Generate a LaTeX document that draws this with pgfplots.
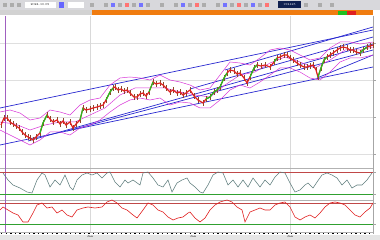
\documentclass[border=0pt]{standalone}
\usepackage{pgfplots}
\pgfplotsset{compat=1.18}
\definecolor{bband}{HTML}{D838D8}
\definecolor{chan}{HTML}{2828D0}
\definecolor{cred}{HTML}{E02020}
\definecolor{cgreen}{HTML}{20C020}
\definecolor{osc}{HTML}{5E7C7C}
\definecolor{lvlred}{HTML}{C04848}
\definecolor{lvlgreen}{HTML}{30A030}
\definecolor{orng}{HTML}{F07C10}
\definecolor{tool}{HTML}{D8D8DC}
\definecolor{navybox}{HTML}{102050}
\definecolor{vline}{HTML}{A060C0}
\definecolor{wick}{HTML}{8A4A2A}
\pgfplotstableread{
x y
1 125
4 118
7 118
10 122
13 124
16 126
19 128
22 132
25 135
28 137
30 138
33 140
36 137
40 133
43 123
47 115
50 119
53 122
57 120
60 124
63 121
66 125
70 122
73 128
76 124
80 120
83 108
86 110
90 109
93 108
97 107
100 106
103 105
106 100
110 92
113 88
115 87
118 90
121 89
124 91
127 90
130 93
134 97
137 97
140 94
143 93
146 96
149 92
153 82
156 84
160 83
163 85
166 88
170 92
173 90
177 93
180 92
183 95
186 93
190 90
194 96
198 100
203 103
206 99
210 97
214 92
217 90
220 87
224 78
227 73
230 70
234 71
237 74
240 73
244 78
247 83
250 77
254 68
257 65
261 66
265 65
270 67
274 62
277 58
280 57
284 55
287 55
290 58
293 60
297 63
300 65
304 67
307 67
310 66
313 65
316 70
318 77
321 68
324 60
327 57
330 55
333 53
337 50
340 48
343 47
347 48
350 50
353 50
356 52
360 53
363 50
367 47
370 46
373 45
}\price
\begin{document}
\begin{tikzpicture}
\begin{axis}[width=380pt,height=240pt,scale only axis,
  xmin=0,xmax=380,ymin=0,ymax=240,y dir=reverse,
  axis lines=none,clip=true]
% backgrounds
\fill[tool] (axis cs:0,0) rectangle (axis cs:380,10.5);
\fill[gray!35] (axis cs:0,10.5) rectangle (axis cs:92,15.5);
\fill[orng] (axis cs:92,10.5) rectangle (axis cs:373,15.5);
\fill[white] (axis cs:373,10.5) rectangle (axis cs:380,15.5);
\fill[cgreen] (axis cs:338,11) rectangle (axis cs:347,15);
\fill[cred] (axis cs:347,11) rectangle (axis cs:356,15);
\fill[gray!20] (axis cs:0,234.5) rectangle (axis cs:380,240);
\fill[white] (axis cs:25,2) rectangle (axis cs:56,8);
\fill[white] (axis cs:68,2) rectangle (axis cs:84,8);
\fill[blue!60] (axis cs:59,2) rectangle (axis cs:64,8);
\fill[navybox] (axis cs:278,1) rectangle (axis cs:301,8);
\pgfplotsinvokeforeach{3,10,17,90,104,118,132,146,160,174,188,202,216,230,244,258,304,318,330}{
  \fill[gray!65] (axis cs:#1,3) rectangle ++(4pt,-4pt);}
\pgfplotsinvokeforeach{111,139,181,223,251}{
  \fill[blue!55] (axis cs:#1,3) rectangle ++(4pt,-4pt);}
\pgfplotsinvokeforeach{125,195,237,265}{
  \fill[red!55] (axis cs:#1,3) rectangle ++(4pt,-4pt);}
% grid and frames
\draw[gray!25] (axis cs:0,43) -- (axis cs:373,43);
\draw[gray!25] (axis cs:0,80) -- (axis cs:373,80);
\draw[gray!25] (axis cs:0,117) -- (axis cs:373,117);
\draw[gray!25] (axis cs:0,154) -- (axis cs:373,154);
\pgfplotsinvokeforeach{43,80,117,154,172,194,203,224}{
  \draw[gray!70] (axis cs:373,#1) -- ++(3pt,0pt);}
\draw[gray!30] (axis cs:90,16) -- (axis cs:90,232);
\draw[gray!30] (axis cs:290,16) -- (axis cs:290,232);
\draw[gray!60] (axis cs:0,168) -- (axis cs:373,168);
\draw[gray!60] (axis cs:0,200.5) -- (axis cs:373,200.5);
\draw[gray!60] (axis cs:0,232) -- (axis cs:373,232);
\draw[gray!70] (axis cs:373,16) -- (axis cs:373,234);
\draw[vline,line width=0.8pt] (axis cs:5,16) -- (axis cs:5,232);
% channel lines
\addplot[chan,line width=0.7pt] coordinates {(0,108) (373,30)};
\addplot[chan,line width=0.7pt] coordinates {(0,145) (373,67)};
\addplot[chan,line width=0.7pt] coordinates {(28,141) (373,44)};
\addplot[chan,line width=0.7pt] coordinates {(67,131) (373,50)};
\addplot[chan,line width=0.7pt] coordinates {(190,89) (373,37)};
\addplot[chan,line width=0.7pt] coordinates {(225,70) (373,27)};
\addplot[chan,line width=0.7pt] coordinates {(317,78) (373,55)};
% bollinger bands
\addplot[bband,line width=0.5pt] coordinates {(0,112) (10,110) (20,113) (30,120) (40,118) (50,110) (60,112) (70,115) (80,105) (90,100) (100,98) (110,85) (120,78) (130,77) (140,78) (150,80) (160,75) (170,80) (180,82) (190,85) (200,90) (210,88) (220,75) (230,62) (240,63) (250,65) (260,58) (270,50) (280,48) (290,50) (300,55) (310,60) (320,58) (330,48) (340,42) (350,42) (360,44) (373,42)};
\addplot[bband,line width=0.5pt] coordinates {(0,122) (15,124) (30,130) (45,125) (60,122) (75,122) (90,115) (105,108) (120,95) (135,88) (150,88) (165,88) (180,92) (195,95) (210,97) (225,85) (240,75) (255,72) (270,63) (285,57) (300,62) (315,68) (330,60) (345,50) (360,50) (373,47)};
\addplot[bband,line width=0.5pt] coordinates {(0,130) (10,135) (20,140) (30,145) (40,140) (50,132) (60,132) (70,135) (80,128) (90,125) (100,120) (110,112) (120,105) (130,100) (140,98) (150,100) (160,98) (170,105) (180,102) (190,103) (200,108) (210,108) (220,100) (230,90) (240,85) (250,88) (260,82) (270,75) (280,68) (290,68) (300,72) (310,78) (320,80) (330,72) (340,62) (350,58) (360,58) (373,55)};
% price: wicks then bodies
\addplot[wick,line width=0.35pt,mark=none,draw=none,
  error bars/.cd,y dir=both,y fixed=3,error bar style={wick,line width=0.35pt},error mark=none] table[x=x,y=y] {\price};
\addplot[cred,line width=1.2pt] table[x=x,y=y] {\price};
\addplot[cgreen,line width=1.2pt] coordinates {(40,133) (43,123) (47,115)};
\addplot[cgreen,line width=1.2pt] coordinates {(80,120) (83,108)};
\addplot[cgreen,line width=1.2pt] coordinates {(106,100) (110,92) (113,88)};
\addplot[cgreen,line width=1.2pt] coordinates {(149,92) (153,82)};
\addplot[cgreen,line width=1.2pt] coordinates {(206,99) (210,97) (214,92) (217,90) (220,87) (224,78) (227,73)};
\addplot[cgreen,line width=1.2pt] coordinates {(250,77) (254,68) (257,65)};
\addplot[cgreen,line width=1.2pt] coordinates {(274,62) (277,58)};
\addplot[cgreen,line width=1.2pt] coordinates {(318,77) (321,68) (324,60) (327,57)};
\addplot[cgreen,line width=1.2pt] coordinates {(360,53) (363,50) (367,47)};
% oscillator 1 levels
\addplot[lvlred,line width=0.6pt] coordinates {(0,172) (373,172)};
\addplot[lvlgreen,line width=0.6pt] coordinates {(0,194) (373,194)};
\addplot[osc,line width=0.55pt] coordinates {(3,173) (8,180) (13,185) (20,188) (27,192) (32,193) (37,180) (42,173) (45,175) (50,187) (55,180) (60,185) (65,175) (70,187) (73,190) (77,180) (82,175) (87,173) (92,175) (97,173) (102,178) (107,173) (110,172) (115,182) (120,187) (125,180) (128,183) (133,180) (140,185) (143,173) (148,172) (153,178) (158,185) (163,187) (168,180) (172,192) (177,183) (182,180) (187,178) (190,183) (195,187) (200,192) (203,193) (208,185) (213,175) (218,172) (223,173) (228,185) (233,180) (238,187) (243,180) (248,187) (253,178) (260,187) (265,180) (270,185) (275,177) (280,172) (285,173) (290,183) (295,192) (300,190) (305,185) (308,183) (313,188) (317,182) (322,175) (327,173) (332,175) (337,178) (342,185) (347,180) (352,188) (357,185) (362,185) (367,180) (372,173)};
% oscillator 2 levels
\addplot[lvlred,line width=0.6pt] coordinates {(0,203) (373,203)};
\addplot[lvlgreen,line width=0.6pt] coordinates {(0,224) (373,224)};
\addplot[cred,line width=0.6pt] coordinates {(0,210) (3,207) (8,210) (13,213) (18,215) (23,222) (28,222) (33,213) (37,205) (42,203) (47,208) (52,207) (57,213) (62,210) (67,215) (72,217) (77,210) (83,208) (88,207) (95,208) (102,207) (107,202) (112,200) (117,203) (122,208) (127,210) (133,215) (137,218) (143,210) (148,203) (153,205) (158,210) (163,212) (168,217) (173,220) (178,218) (183,217) (188,213) (190,212) (195,218) (200,222) (205,218) (210,210) (215,205) (220,202) (227,200) (232,202) (237,207) (242,210) (245,222) (250,212) (255,210) (260,208) (265,210) (270,210) (275,205) (280,203) (285,202) (290,207) (295,217) (300,220) (305,217) (310,215) (315,218) (320,213) (325,207) (330,203) (335,202) (340,203) (345,205) (350,210) (355,215) (360,217) (365,212) (370,208) (373,203)};
% date axis
\draw[black,line width=1.2pt,dash pattern=on 1.4pt off 3.2pt] (axis cs:1,233.5) -- (axis cs:372,233.5);
\node[font=\fontsize{3}{3}\selectfont,inner sep=0pt] at (axis cs:90,236.8) {Jan};
\node[font=\fontsize{3}{3}\selectfont,inner sep=0pt] at (axis cs:193,236.8) {Jan};
\node[font=\fontsize{3}{3}\selectfont,inner sep=0pt] at (axis cs:290,236.8) {Jan};
\node[font=\fontsize{3}{3}\selectfont,inner sep=0pt,text=white] at (axis cs:289.5,4.5) {152425};
\node[font=\fontsize{3}{3}\selectfont,inner sep=0pt] at (axis cs:40,5) {2024.10.09};
\end{axis}
\end{tikzpicture}
\end{document}
